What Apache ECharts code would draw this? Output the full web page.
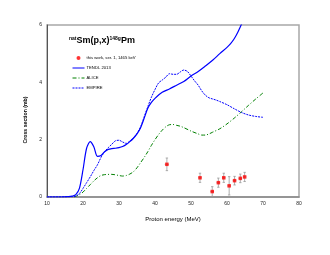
<!DOCTYPE html>
<html><head><meta charset="utf-8">
<script src="https://cdn.jsdelivr.net/npm/echarts@6/dist/echarts.min.js"></script>
<style>html,body{margin:0;padding:0;background:#fff}#c{width:330px;height:255px}</style>
</head><body><div id="c"></div>
<script>
var xTicks = [10, 20, 30, 40, 50, 60, 70, 80];
var yTicks = [0, 2, 4, 6];

var tendlE = [10,14,16,17,18,19,20,21,22,23,24,25,26,27,28,29,30,31,32,33,34,35,36,37,38,39,40,42,44,46,48,50,52,54,56,58,60,61,62,63,64,65];
var tendlV = [0,0,0.01,0.03,0.08,0.3,0.95,1.7,1.93,1.75,1.42,1.45,1.58,1.66,1.69,1.7,1.72,1.76,1.83,1.93,2.05,2.2,2.42,2.75,3.1,3.3,3.44,3.65,3.77,3.9,4.03,4.22,4.38,4.57,4.77,5.0,5.22,5.35,5.52,5.75,6.02,6.3];

var empireE = [10,17,18,19,20,21,22,23,24,25,26,27,28,29,30,31,32,33,34,35,36,37,38,39,40,41,42,43,44,45,46,47,48,49,50,51,52,53,54,55,56,57,58,60,62,64,66,68,70];
var empireV = [0,0.01,0.03,0.12,0.3,0.5,0.7,0.92,1.12,1.38,1.58,1.72,1.84,1.96,1.98,1.92,1.87,1.95,2.06,2.22,2.45,2.8,3.15,3.48,3.75,3.98,4.08,4.18,4.3,4.28,4.28,4.36,4.43,4.38,4.22,4.05,3.9,3.7,3.55,3.46,3.42,3.38,3.33,3.22,3.08,2.95,2.86,2.81,2.78];

var aliceE = [17.5,19,20,21,22,23,24,25,26,28,30,31,32,33,34,35,36,37,38,39,40,41,42,43,44,45,46,47,48,50,52,53,54,55,56,58,60,62,64,66,68,70];
var aliceV = [0,0.08,0.17,0.3,0.43,0.56,0.67,0.75,0.78,0.79,0.75,0.73,0.75,0.8,0.88,1.02,1.2,1.38,1.58,1.8,2.0,2.18,2.33,2.45,2.52,2.53,2.5,2.47,2.42,2.3,2.2,2.16,2.16,2.2,2.26,2.38,2.55,2.75,2.97,3.2,3.42,3.63];

var expE    = [43.3, 52.5, 55.9, 57.6, 59.1, 60.6, 62.1, 63.7, 64.9];
var expV    = [1.14, 0.67, 0.19, 0.50, 0.67, 0.39, 0.57, 0.65, 0.70];
var expErr  = [0.22, 0.16, 0.17, 0.16, 0.16, 0.32, 0.15, 0.15, 0.16];
var expEErr = [0.6, 0.5, 0.5, 0.5, 0.5, 0.5, 0.5, 0.5, 0.5];

function pairs(a, b) { return a.map(function (v, i) { return [v, b[i]]; }); }

var FONT = '"Liberation Sans", Arial, sans-serif';
var chart = echarts.init(document.getElementById('c'), null, {renderer: 'canvas'});
chart.setOption({
  animation: false,
  backgroundColor: '#fff',
  title: {
    text: '{sup|nat}Sm(p,x){sup|148g}Pm',
    left: 64, top: 31,
    textStyle: {
      fontFamily: FONT, fontSize: 9, fontWeight: 'bold', color: '#000',
      rich: {
        sup: {fontFamily: FONT, fontSize: 5, fontWeight: 'bold', color: '#000', verticalAlign: 'top', padding: [0, 0, 4, 0]}
      }
    }
  },
  legend: {
    orient: 'vertical', left: 67, top: 51,
    itemWidth: 12, itemHeight: 4, itemGap: 6,
    lineStyle: {width: 1},
    textStyle: {fontFamily: FONT, fontSize: 4.2, color: '#000', padding: [0, 0, 0, -3]},
    data: [
      {name: 'this work, ser. 1, 1465 keV', icon: 'circle', itemStyle: {color: '#ff0000'}},
      {name: 'TENDL 2013', itemStyle: {opacity: 0}},
      {name: 'ALICE', itemStyle: {opacity: 0}},
      {name: 'EMPIRE', itemStyle: {opacity: 0}}
    ]
  },
  grid: {left: 47, right: 31, top: 25, bottom: 58, show: true, borderColor: '#a8a8a8', borderWidth: 1.5},
  xAxis: {
    type: 'value', min: xTicks[0], max: xTicks[xTicks.length - 1], interval: 10,
    name: 'Proton energy (MeV)', nameLocation: 'middle', nameGap: 19,
    nameTextStyle: {fontFamily: FONT, fontSize: 6, color: '#000'},
    axisLine: {lineStyle: {color: '#888', width: 1.5}},
    axisTick: {show: false},
    axisLabel: {fontFamily: FONT, fontSize: 5, color: '#222', margin: 4},
    splitLine: {show: false}
  },
  yAxis: {
    type: 'value', min: yTicks[0], max: yTicks[yTicks.length - 1], interval: 2,
    name: 'Cross section (mb)', nameLocation: 'middle', nameGap: 12,
    nameTextStyle: {fontFamily: FONT, fontSize: 5.2, fontWeight: 'bold', color: '#000', padding: [0, 18, 0, 0]},
    axisLine: {show: true, lineStyle: {color: '#555', width: 1}},
    axisTick: {show: false},
    axisLabel: {fontFamily: FONT, fontSize: 5, color: '#222', margin: 5},
    splitLine: {show: false}
  },
  series: [
    {
      name: 'errbars', type: 'custom', silent: true, z: 3,
      data: expE.map(function (e, i) { return [e, expV[i], expErr[i], expEErr[i]]; }),
      renderItem: function (params, api) {
        var x = api.value(0), y = api.value(1), dy = api.value(2), dx = api.value(3);
        var top = api.coord([x, y + dy]), bot = api.coord([x, y - dy]);
        var lft = api.coord([x - dx, y]), rgt = api.coord([x + dx, y]);
        var st = {stroke: '#999', lineWidth: 0.8};
        return {type: 'group', children: [
          {type: 'line', shape: {x1: top[0], y1: top[1], x2: bot[0], y2: bot[1]}, style: st},
          {type: 'line', shape: {x1: top[0] - 1.2, y1: top[1], x2: top[0] + 1.2, y2: top[1]}, style: st},
          {type: 'line', shape: {x1: bot[0] - 1.2, y1: bot[1], x2: bot[0] + 1.2, y2: bot[1]}, style: st},
          {type: 'line', shape: {x1: lft[0], y1: lft[1], x2: rgt[0], y2: rgt[1]}, style: st}
        ]};
      }
    },
    {
      name: 'this work, ser. 1, 1465 keV', type: 'scatter', z: 4,
      symbol: 'rect', symbolSize: 3.5,
      itemStyle: {color: '#ff0000'},
      data: pairs(expE, expV)
    },
    {
      name: 'TENDL 2013', type: 'line', showSymbol: false, symbol: 'none',
      smooth: 0.3, clip: true,
      lineStyle: {color: '#0000ff', width: 1.2},
      itemStyle: {color: '#0000ff'},
      data: pairs(tendlE, tendlV)
    },
    {
      name: 'ALICE', type: 'line', showSymbol: false, symbol: 'none',
      smooth: 0.3, clip: true,
      lineStyle: {color: '#008000', width: 1, type: [4, 2, 1, 2]},
      itemStyle: {color: '#008000'},
      data: pairs(aliceE, aliceV)
    },
    {
      name: 'EMPIRE', type: 'line', showSymbol: false, symbol: 'none',
      smooth: 0.3, clip: true,
      lineStyle: {color: '#0000ff', width: 1, type: [2, 1]},
      itemStyle: {color: '#0000ff'},
      data: pairs(empireE, empireV)
    }
  ]
});
</script>
</body></html>
